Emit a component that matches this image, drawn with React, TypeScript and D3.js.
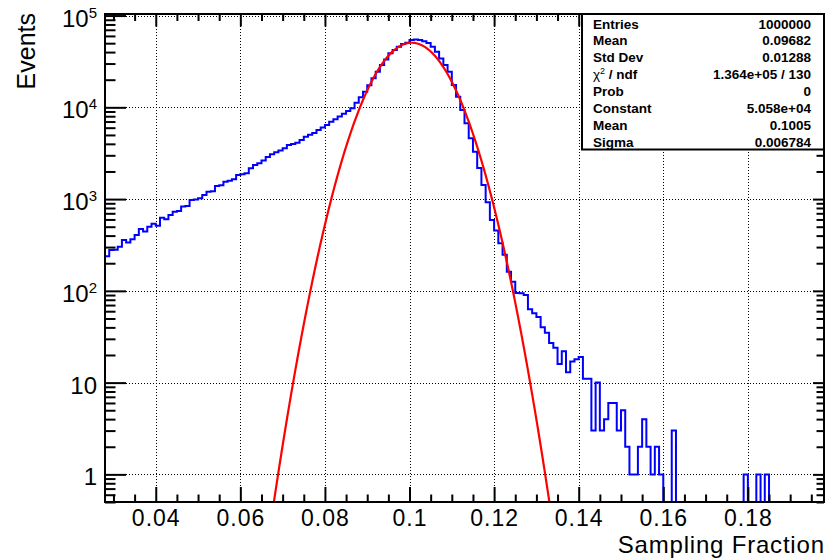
import React, { Component } from 'react'
import * as d3 from 'd3'

// histogram binning (0.001 wide bins from 0.028)
const binStart = 0.028
const binWidth = 0.001

// 0.028 .. 0.099
const riseCounts = [
  239, 279, 281, 303, 359, 336, 366, 407, 473, 443, 501, 537,
  511, 628, 603, 671, 729, 741, 828, 841, 977, 989, 1021, 1109,
  1205, 1216, 1390, 1413, 1549, 1585, 1644, 1832, 1862, 1910, 2168, 2355,
  2455, 2630, 2884, 3090, 3236, 3388, 3589, 3890, 3981, 4121, 4416, 4786,
  5012, 5248, 5662, 6026, 6412, 6966, 7413, 7943, 8511, 9120, 9772, 11220,
  12880, 14790, 17380, 20700, 24430, 28840, 33270, 38730, 42070, 45710, 48870, 50470
]
// 0.100 .. 0.130
const peakCounts = [
  54330, 54950, 54080, 52480, 50120, 45710, 40270, 34120, 28840, 24430, 17500,
  13030, 9333, 6699, 4592, 3289, 2188, 1426, 925, 593, 454, 330,
  247, 162, 126, 95, 94, 90, 63, 57, 52
]
// 0.131 .. 0.197
const tailCounts = [
  40, 35, 27, 24, 16, 22, 13, 17, 18, 19, 11, 11, 3, 10, 3, 4,
  6, 6, 3, 5, 2, 1, 1, 2, 4, 2, 1, 2, 1, 0, 0, 3,
  0, 0, 0, 0, 0, 0, 0, 0, 0, 0, 0, 0, 0, 0, 0, 0,
  1, 0, 0, 1, 0, 1,
  0, 0, 0, 0, 0, 0, 0, 0, 0, 0, 0, 0, 0
]

const xTicks = [0.04, 0.06, 0.08, 0.1, 0.12, 0.14, 0.16, 0.18]
const xTickLabels = ['0.04', '0.06', '0.08', '0.1', '0.12', '0.14', '0.16', '0.18']
const yDecades = [1, 10, 100, 1000, 10000, 100000]
const yBase = ['1', '10', '10', '10', '10', '10']
const yExp = ['', '', '2', '3', '4', '5']

// fit parameters, from the stats box
const fitConstant = 5.058e4
const fitMean = 0.1005
const fitSigma = 0.006784

const statLabels = ['Entries', 'Mean', 'Std Dev', 'chi2', 'Prob', 'Constant', 'Mean', 'Sigma']
const statValues = ['1000000', '0.09682', '0.01288', '1.364e+05 / 130', '0', '5.058e+04', '0.1005', '0.006784']

type Props = {
  width: number,
  height: number
}

class SamplingChart extends Component<Props> {
  node: SVGSVGElement | null = null

  componentDidMount() {
    this.buildChart()
  }

  buildChart() {
    const svg = d3.select(this.node)
    svg.selectAll('*').remove()
    const font = "'Liberation Sans', Arial, Helvetica, sans-serif"
    const frame = { left: 105, right: 824, top: 14, bottom: 502 }

    const x = d3.scaleLinear().domain([0.028, 0.198]).range([frame.left, frame.right])
    const y = d3.scaleLog().domain([0.5, 1.04e5]).range([frame.bottom, frame.top])

    svg.append('defs').append('clipPath').attr('id', 'frameClip')
      .append('rect')
      .attr('x', frame.left).attr('y', frame.top)
      .attr('width', frame.right - frame.left).attr('height', frame.bottom - frame.top)

    // dotted grid
    const grid = svg.append('g')
      .attr('stroke', '#000').attr('stroke-width', 1).attr('stroke-dasharray', '1,2')
    grid.selectAll('line.gx').data(xTicks).enter().append('line')
      .attr('x1', d => Math.round(x(d)) + 0.5).attr('x2', d => Math.round(x(d)) + 0.5)
      .attr('y1', frame.top).attr('y2', frame.bottom)
    grid.selectAll('line.gy').data(yDecades).enter().append('line')
      .attr('y1', d => Math.round(y(d)) + 0.5).attr('y2', d => Math.round(y(d)) + 0.5)
      .attr('x1', frame.left).attr('x2', frame.right)

    // histogram
    const counts = riseCounts.concat(peakCounts, tailCounts)
    const pts: [number, number][] = counts.map((c, i) => [binStart + i * binWidth, c])
    pts.push([binStart + counts.length * binWidth, counts[counts.length - 1]])
    const stepLine = d3.line<[number, number]>()
      .x(d => x(d[0]))
      .y(d => y(Math.max(d[1], 0.5)))
      .curve(d3.curveStepAfter)
    svg.append('path')
      .datum(pts)
      .attr('clip-path', 'url(#frameClip)')
      .attr('d', stepLine)
      .attr('fill', 'none')
      .attr('stroke', '#0000ff')
      .attr('stroke-width', 2)

    // gaussian fit
    const gauss = (v: number) => fitConstant * Math.exp(-0.5 * Math.pow((v - fitMean) / fitSigma, 2))
    const fitPts = d3.range(0.028, 0.198, 0.0002).filter(v => gauss(v) > 0.1)
    const fitLine = d3.line<number>().x(d => x(d)).y(d => y(gauss(d)))
    svg.append('path')
      .datum(fitPts)
      .attr('clip-path', 'url(#frameClip)')
      .attr('d', fitLine)
      .attr('fill', 'none')
      .attr('stroke', '#ff0000')
      .attr('stroke-width', 2.2)

    // ticks
    const xMinor = d3.range(0.03, 0.196, 0.005)
      .filter(v => Math.abs(v / 0.02 - Math.round(v / 0.02)) > 1e-6)
    const yMinor: number[] = []
    for (let e = -1; e <= 4; e++) {
      for (let k = 2; k <= 9; k++) {
        const v = k * Math.pow(10, e)
        if (v >= 0.5 && v <= 1.04e5) yMinor.push(v)
      }
    }
    const drawTicks = (axis: any, transform: string, values: number[], size: number) => {
      svg.append('g')
        .attr('transform', transform)
        .call(axis.tickValues(values).tickSize(size).tickFormat(() => ''))
        .call((g: any) => g.select('.domain').remove())
        .call((g: any) => g.selectAll('line').attr('stroke', '#000').attr('stroke-width', 2))
    }
    drawTicks(d3.axisBottom(x), `translate(0,${frame.bottom})`, xTicks, -15)
    drawTicks(d3.axisBottom(x), `translate(0,${frame.bottom})`, xMinor, -7.5)
    drawTicks(d3.axisTop(x), `translate(0,${frame.top})`, xTicks, -12.5)
    drawTicks(d3.axisTop(x), `translate(0,${frame.top})`, xMinor, -7)
    drawTicks(d3.axisLeft(y), `translate(${frame.left},0)`, yDecades, -21)
    drawTicks(d3.axisLeft(y), `translate(${frame.left},0)`, yMinor, -10.5)
    drawTicks(d3.axisRight(y), `translate(${frame.right},0)`, yDecades, -11)
    drawTicks(d3.axisRight(y), `translate(${frame.right},0)`, yMinor, -7.5)

    // frame
    svg.append('rect')
      .attr('x', frame.left).attr('y', frame.top)
      .attr('width', frame.right - frame.left).attr('height', frame.bottom - frame.top)
      .attr('fill', 'none').attr('stroke', '#000').attr('stroke-width', 2)

    // tick labels
    svg.append('g').selectAll('text').data(xTicks).enter().append('text')
      .attr('x', d => x(d) + 0.5).attr('y', 526)
      .attr('text-anchor', 'middle')
      .style('font-family', font).style('font-size', '23px').style('letter-spacing', '1px')
      .text((d, i) => xTickLabels[i])

    const yl = svg.append('g').selectAll('text').data(yDecades).enter().append('text')
      .attr('x', 97).attr('y', d => y(d) + 11)
      .attr('text-anchor', 'end')
      .style('font-family', font).style('font-size', '24px')
    yl.append('tspan').text((d, i) => yBase[i])
    yl.append('tspan')
      .attr('dy', -9).style('font-size', '15px')
      .text((d, i) => yExp[i])

    // axis titles
    svg.append('text')
      .attr('x', frame.right + 0.8).attr('y', 553)
      .attr('text-anchor', 'end')
      .style('font-family', font).style('font-size', '24px').style('letter-spacing', '0.8px')
      .text('Sampling Fraction')
    svg.append('text')
      .attr('transform', 'translate(35,13) rotate(-90)')
      .attr('text-anchor', 'end')
      .style('font-family', font).style('font-size', '25px')
      .text('Events')

    // stats box
    const box = svg.append('g')
    box.append('rect')
      .attr('x', 582).attr('y', 14).attr('width', 242).attr('height', 135.5)
      .attr('fill', '#fff').attr('stroke', '#000').attr('stroke-width', 2)
    statLabels.forEach((lab, i) => {
      const by = 28.5 + i * 16.9
      const t = box.append('text')
        .attr('x', 593).attr('y', by)
        .style('font-family', font).style('font-size', '13.5px').style('font-weight', 'bold')
      if (lab === 'chi2') {
        t.append('tspan').style('font-weight', 'normal').text('\u03c7')
        t.append('tspan').attr('dy', -5).style('font-size', '9px').style('font-weight', 'normal').text('2')
        t.append('tspan').attr('dy', 5).text(' / ndf')
      } else {
        t.text(lab)
      }
      box.append('text')
        .attr('x', 811).attr('y', by)
        .attr('text-anchor', 'end')
        .style('font-family', font).style('font-size', '13.5px').style('font-weight', 'bold')
        .text(statValues[i])
    })
  }

  render() {
    const { width, height } = this.props
    return (
      <svg
        width={width}
        height={height}
        ref={node => { this.node = node }}
        style={{ position: 'absolute', left: 0, top: 0, background: '#fff' }}></svg>
    )
  }
}

export default function App() {
  return <SamplingChart width={838} height={558} />
}
